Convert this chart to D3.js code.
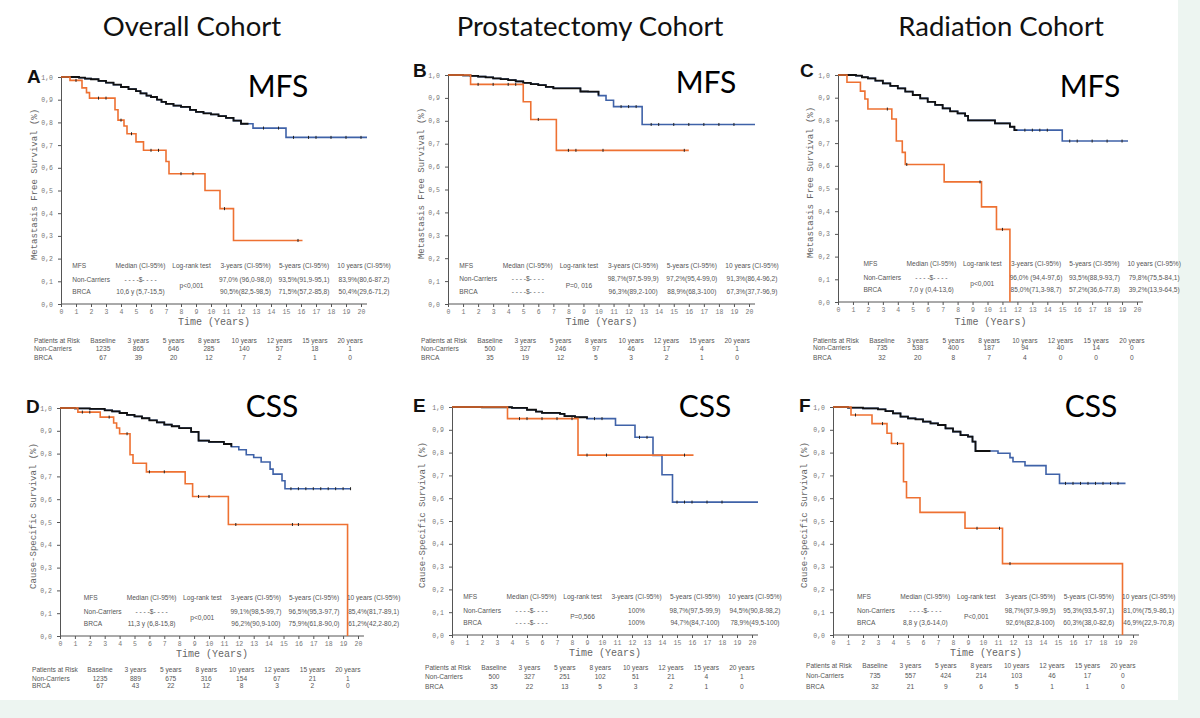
<!DOCTYPE html>
<html>
<head>
<meta charset="utf-8">
<script src="https://cdn.jsdelivr.net/npm/d3@7"></script>
<style>
  body { margin: 0; background: #edf5f1; }
  svg { display: block; }
</style>
</head>
<body>
<svg id="chart"></svg>
<script>
// column titles
const cohorts = ["Overall Cohort", "Prostatectomy Cohort", "Radiation Cohort"];
const endpoints = ["MFS", "MFS", "MFS", "CSS", "CSS", "CSS"];
const panelLetters = ["A", "B", "C", "D", "E", "F"];
const yTitles = ["Metastasis Free Survival (%)", "Metastasis Free Survival (%)", "Metastasis Free Survival (%)",
  "Cause-Specific Survival (%)", "Cause-Specific Survival (%)", "Cause-Specific Survival (%)"];

// step curves: [time in years, survival after the drop]
const ncA = [[0,1],[1.2,0.997],[1.6,0.993],[2,0.99],[2.5,0.983],[3,0.975],[3.5,0.966],[4,0.956],[4.5,0.947],[5,0.938],[5.3,0.928],[5.7,0.918],[6,0.912],[6.4,0.9],[6.7,0.89],[7,0.882],[7.5,0.874],[8,0.868],[8.6,0.855],[9,0.846],[9.5,0.84],[10,0.835],[10.5,0.828],[11,0.82],[11.5,0.808],[12,0.794],[12.8,0.775],[15,0.734],[20.4,0.734]];
const brA = [[0,1],[0.6,0.985],[1.4,0.952],[1.7,0.931],[1.9,0.907],[3.6,0.856],[3.8,0.81],[4.2,0.784],[4.4,0.75],[5,0.714],[5.5,0.677],[7,0.628],[7.2,0.574],[9.6,0.5],[10.6,0.42],[11.5,0.28],[16.1,0.28]];
const ncB = [[0,1],[1,0.998],[1.5,0.996],[2,0.993],[2.5,0.99],[3,0.985],[3.5,0.982],[4,0.978],[4.5,0.972],[5,0.966],[5.5,0.96],[6,0.956],[6.5,0.948],[7,0.942],[8.8,0.928],[9.3,0.927],[10,0.91],[10.5,0.89],[11,0.862],[12.9,0.784],[20.4,0.784]];
const brB = [[0,1],[1.5,0.959],[5,0.883],[5.5,0.806],[7.2,0.671],[16,0.671]];
const ncC = [[0,1],[1.2,0.997],[1.6,0.99],[2,0.985],[2.5,0.975],[3,0.963],[3.5,0.952],[4,0.941],[4.5,0.927],[5,0.912],[5.5,0.897],[6,0.882],[6.5,0.868],[7,0.853],[7.5,0.84],[8,0.831],[8.5,0.82],[8.7,0.8],[10.5,0.787],[11.5,0.772],[11.8,0.757],[15,0.709],[19.4,0.709]];
const brC = [[0,1],[0.6,0.968],[1.5,0.929],[1.8,0.894],[2,0.85],[3.6,0.806],[3.9,0.709],[4.3,0.659],[4.5,0.606],[7.1,0.529],[9.6,0.419],[10.6,0.32],[11.5,0]];
const ncD = [[0,1],[1,0.998],[2,0.996],[3,0.99],[3.5,0.985],[4,0.978],[4.5,0.97],[5,0.963],[5.5,0.955],[6,0.946],[6.5,0.937],[7,0.927],[7.5,0.92],[8,0.912],[8.8,0.895],[9.3,0.857],[10,0.851],[11,0.842],[11.5,0.83],[12,0.817],[12.5,0.795],[13,0.783],[13.5,0.763],[14.1,0.732],[14.3,0.71],[14.9,0.681],[15.1,0.646],[19.5,0.646]];
const brD = [[0,1],[1.2,0.982],[2.7,0.96],[3.6,0.934],[3.8,0.912],[4,0.887],[4.7,0.795],[4.9,0.758],[5.8,0.72],[8.4,0.668],[8.9,0.612],[11.3,0.489],[19.3,0]];
const ncE = [[0,1],[2,0.999],[4,0.996],[5,0.988],[5.6,0.98],[6,0.974],[7.2,0.97],[7.5,0.96],[8.2,0.955],[9,0.949],[10.9,0.92],[12.2,0.867],[13.4,0.788],[14,0.703],[14.7,0.583],[20.4,0.583]];
const brE = [[0,1],[3.7,0.949],[8.4,0.789],[16.1,0.789]];
const ncF = [[0,1],[1,0.997],[2,0.994],[3,0.99],[3.5,0.982],[4,0.972],[4.5,0.958],[5,0.95],[5.5,0.946],[6,0.936],[6.5,0.928],[7,0.921],[7.5,0.906],[8,0.892],[8.5,0.877],[9,0.87],[9.3,0.848],[9.5,0.807],[11,0.797],[11.8,0.778],[12,0.76],[12.8,0.743],[14.2,0.705],[15.1,0.665],[19.5,0.665]];
const brF = [[0,1],[1.2,0.965],[2.6,0.927],[3.6,0.885],[3.9,0.84],[4.7,0.672],[4.9,0.602],[5.8,0.538],[8.8,0.468],[11.3,0.313],[19.3,0]];

// censoring marks (years)
const ncCensor = [
  [13.5,14.5,15.5,16.5,17,18,19,20],
  [11.5,12,12.5,13.5,14,15,16,17,18,19],
  [12.5,13,13.5,14,15.5,16,17,18,19],
  [15.5,16,16.5,17,17.5,18,18.5,19,19.5],
  [9.5,10,12.5,13,15,15.5,16,17,18],
  [15.5,16,16.5,17,17.5,18,18.5,19]
];
const brCensor = [
  [1,2.5,3,4,4.7,6,6.5,8,8.8,10.9,15.8],
  [2,3,4,4.5,6,8,8.5,10.3,15.7],
  [3.3,4.6,9.5,11],
  [1.5,2,3.3,4.5,6,7,9.3,10,11.8,15.6,16],
  [4.5,5,6,7,8,9,10.3,15.5],
  [1.5,3.3,4.3,9.6,11.1,11.8]
];
// black (densely censored) part of non-carrier curve ends here
const darkUntil = [12.5, 10, 12, 11.5, 9, 10.5];

// inline summary tables
const sumHeader = ["Median (CI-95%)", "Log-rank test", "3-years (CI-95%)", "5-years (CI-95%)", "10 years (CI-95%)"];
const sumNc = [
  ["- - - -$- - - -", "97,0% (96,0-98,0)", "93,5%(91,9-95,1)", "83,9%(80,6-87,2)"],
  ["- - - -$- - - -", "98,7%(97,5-99,9)", "97,2%(95,4-99,0)", "91,3%(86,4-96,2)"],
  ["- - - -$- - - -", "96,0% (94,4-97,6)", "93,5%(88,9-93,7)", "79,8%(75,5-84,1)"],
  ["- - - -$- - - -", "99,1%(98,5-99,7)", "96,5%(95,3-97,7)", "85,4%(81,7-89,1)"],
  ["- - - -$- - - -", "100%", "98,7%(97,5-99,9)", "94,5%(90,8-98,2)"],
  ["- - - -$- - - -", "98,7%(97,9-99,5)", "95,3%(93,5-97,1)", "81,0%(75,9-86,1)"]
];
const sumBr = [
  ["10,6 y (5,7-15,5)", "90,5%(82,5-98,5)", "71,5%(57,2-85,8)", "50,4%(29,6-71,2)"],
  ["- - - -$- - - -", "96,3%(89,2-100)", "88,9%(68,3-100)", "67,3%(37,7-96,9)"],
  ["7,0 y (0,4-13,6)", "85,0%(71,3-98,7)", "57,2%(36,6-77,8)", "39,2%(13,9-64,5)"],
  ["11,3 y (6,8-15,8)", "96,2%(90,9-100)", "75,9%(61,8-90,0)", "61,2%(42,2-80,2)"],
  ["- - - -$- - - -", "100%", "94,7%(84,7-100)", "78,9%(49,5-100)"],
  ["8,8 y (3,6-14,0)", "92,6%(82,8-100)", "60,3%(38,0-82,6)", "46,9%(22,9-70,8)"]
];
const pValues = ["p<0,001", "P=0, 016", "p<0,001", "p<0,001", "P=0,566", "P<0,001"];

// patients at risk
const riskCols = ["Baseline", "3 years", "5 years", "8 years", "10 years", "12 years", "15 years", "20 years"];
const riskNc = [
  [1235, 865, 646, 285, 140, 57, 18, 1],
  [500, 327, 246, 97, 46, 17, 4, 1],
  [735, 538, 400, 187, 94, 40, 14, 0],
  [1235, 889, 675, 316, 154, 67, 21, 1],
  [500, 327, 251, 102, 51, 21, 4, 1],
  [735, 557, 424, 214, 103, 46, 17, 0]
];
const riskBr = [
  [67, 39, 20, 12, 7, 2, 1, 0],
  [35, 19, 12, 5, 3, 2, 1, 0],
  [32, 20, 8, 7, 4, 0, 0, 0],
  [67, 43, 22, 12, 8, 3, 2, 0],
  [35, 22, 13, 5, 3, 2, 1, 0],
  [32, 21, 9, 6, 5, 1, 1, 0]
];

const ncSeries = [ncA, ncB, ncC, ncD, ncE, ncF];
const brSeries = [brA, brB, brC, brD, brE, brF];

// layout for each panel (pixels)
const layout = [
  { x0: 61, x20: 361, yTop: 77, yBot: 304, letter: [27, 83], tag: [278, 97], yLab: 35, tShift: 0, risk: { left: 34, first: 103, step: 35.3, ys: [341, 349, 358] }, timeY: 322 },
  { x0: 448, x20: 749, yTop: 75, yBot: 304, letter: [413, 77], tag: [706, 93], yLab: 422, tShift: 0, risk: { left: 421, first: 490, step: 35.3, ys: [341, 349, 358] }, timeY: 322 },
  { x0: 838, x20: 1137, yTop: 75, yBot: 302, letter: [800, 77], tag: [1090, 97], yLab: 811, tShift: 0.95, risk: { left: 813, first: 882, step: 35.7, ys: [341, 348, 358] }, timeY: 322 },
  { x0: 60, x20: 358, yTop: 408, yBot: 636, letter: [26, 413], tag: [272, 417], yLab: 34, tShift: 0.85, risk: { left: 32, first: 100, step: 35.4, ys: [670, 679, 686] }, timeY: 654 },
  { x0: 452, x20: 752, yTop: 407, yBot: 635, letter: [413, 412], tag: [705, 417], yLab: 423, tShift: 0, risk: { left: 425, first: 494, step: 35.4, ys: [668, 677, 687] }, timeY: 653 },
  { x0: 833, x20: 1133, yTop: 407, yBot: 635, letter: [799, 412], tag: [1091, 417], yLab: 805, tShift: 0.85, risk: { left: 806, first: 875, step: 35.4, ys: [666, 676, 687] }, timeY: 653 }
];

const W = 1200, H = 718;
const BLUE = "#3f62a8", ORANGE = "#ee7132", AXIS = "#555", TXT = "#555";
const mono = "'Liberation Mono', 'DejaVu Sans Mono', monospace";
const sans = "'Liberation Sans', Arial, sans-serif";

const svg = d3.select("#chart").attr("width", W).attr("height", H);
svg.append("rect").attr("width", W).attr("height", H).attr("fill", "#edf5f1");
svg.append("rect").attr("width", 1178).attr("height", 700).attr("fill", "#fff");

// column titles
const titleX = [192, 590, 1001];
svg.selectAll(".cohort").data(cohorts).enter().append("text")
  .attr("x", (d, i) => titleX[i]).attr("y", 36)
  .attr("text-anchor", "middle")
  .attr("font-family", "Lato, 'Open Sans', sans-serif")
  .attr("font-size", 27.5)
  .attr("fill", "#111")
  .text(d => d);

const valueAt = (series, t) => {
  let v = series[0][1];
  series.forEach(p => { if (p[0] <= t) v = p[1]; });
  return v;
};

const comma = d => d3.format(".1f")(d).replace(".", ",");

layout.forEach((L, i) => {
  const g = svg.append("g");
  const x = d3.scaleLinear().domain([0, 20]).range([L.x0, L.x20]);
  const y = d3.scaleLinear().domain([0, 1]).range([L.yBot, L.yTop]);

  // axes
  const xAxis = g.append("g").attr("transform", `translate(0,${L.yBot})`)
    .call(d3.axisBottom(x).tickValues(d3.range(0, 21)).tickSize(3).tickSizeOuter(0));
  xAxis.select(".domain").attr("d", `M${L.x0},0H${x(20.4)}`);
  const yAxis = g.append("g").attr("transform", `translate(${L.x0},0)`)
    .call(d3.axisLeft(y).tickValues(d3.range(0, 1.01, 0.1)).tickFormat(comma).tickSize(3).tickSizeOuter(0));
  [xAxis, yAxis].forEach(a => {
    a.select(".domain").attr("stroke", AXIS).attr("stroke-width", 1);
    a.selectAll(".tick line").attr("stroke", AXIS);
    a.selectAll(".tick text").attr("fill", "#777").attr("font-family", mono).attr("font-size", 6.5);
  });
  xAxis.selectAll(".tick text").attr("dy", "0.6em");
  yAxis.selectAll(".tick text").attr("dx", -2);

  // axis titles
  g.append("text")
    .attr("x", (L.x0 + x(20.4)) / 2).attr("y", L.timeY)
    .attr("text-anchor", "middle").attr("dominant-baseline", "middle")
    .attr("font-family", mono).attr("font-size", 10).attr("fill", "#666")
    .text("Time (Years)");
  g.append("text")
    .attr("transform", `translate(${L.yLab},${(L.yTop + L.yBot) / 2 - 6}) rotate(-90)`)
    .attr("text-anchor", "middle").attr("dominant-baseline", "middle")
    .attr("font-family", mono).attr("font-size", 9).attr("fill", "#666")
    .text(yTitles[i]);

  // letters and endpoint tags
  g.append("text").attr("x", L.letter[0]).attr("y", L.letter[1])
    .attr("font-family", sans).attr("font-weight", "bold").attr("font-size", 19).attr("fill", "#111")
    .text(panelLetters[i]);
  g.append("text").attr("x", L.tag[0]).attr("y", L.tag[1]).attr("text-anchor", "middle")
    .attr("font-family", "Lato, 'Open Sans', sans-serif").attr("font-size", 30).attr("fill", "#000")
    .text(endpoints[i]);

  // curves
  const line = d3.line().x(d => x(d[0])).y(d => y(d[1])).curve(d3.curveStepAfter);
  const nc = ncSeries[i], br = brSeries[i];
  g.append("path").datum(nc).attr("d", line).attr("fill", "none").attr("stroke", BLUE).attr("stroke-width", 1.6);
  const dark = nc.filter(p => p[0] <= darkUntil[i]).concat([[darkUntil[i], valueAt(nc, darkUntil[i])]]);
  g.append("path").datum(dark).attr("d", line).attr("fill", "none").attr("stroke", "#111").attr("stroke-width", 1.8);
  g.append("path").datum(br).attr("d", line).attr("fill", "none").attr("stroke", ORANGE).attr("stroke-width", 1.6);

  // censor ticks
  g.selectAll(".cn").data(ncCensor[i]).enter().append("line")
    .attr("x1", d => x(d)).attr("x2", d => x(d))
    .attr("y1", d => y(valueAt(nc, d)) - 1.5).attr("y2", d => y(valueAt(nc, d)) + 1.5)
    .attr("stroke", "#222").attr("stroke-width", 1);
  g.selectAll(".cb").data(brCensor[i]).enter().append("line")
    .attr("x1", d => x(d)).attr("x2", d => x(d))
    .attr("y1", d => y(valueAt(br, d)) - 1.5).attr("y2", d => y(valueAt(br, d)) + 1.5)
    .attr("stroke", "#222").attr("stroke-width", 1);

  // inline summary table
  const sh = L.tShift;
  const colX = [5.3, 8.7, 12.3, 16.2, 20.2].map(v => x(v + sh));
  const rowY = [0.167, 0.106, 0.053].map(v => y(v));
  const tt = (tx, ty, s, anchor) => g.append("text").attr("x", tx).attr("y", ty)
    .attr("text-anchor", anchor || "middle").attr("dominant-baseline", "middle")
    .attr("font-family", sans).attr("font-size", 6.6).attr("fill", TXT).text(s);
  tt(x(0.75 + sh), rowY[0], "MFS", "start");
  tt(x(0.75 + sh), rowY[1], "Non-Carriers", "start");
  tt(x(0.75 + sh), rowY[2], "BRCA", "start");
  sumHeader.forEach((h, k) => tt(colX[k], rowY[0], h));
  [0, 2, 3, 4].forEach((c, k) => {
    tt(colX[c], rowY[1], sumNc[i][k]);
    tt(colX[c], rowY[2], sumBr[i][k]);
  });
  tt(colX[1], (rowY[1] + rowY[2]) / 2, pValues[i]);

  // patients at risk
  const R = L.risk;
  const rx = k => R.first + R.step * k;
  tt(R.left, R.ys[0], "Patients at Risk", "start");
  tt(R.left, R.ys[1], "Non-Carriers", "start");
  tt(R.left, R.ys[2], "BRCA", "start");
  riskCols.forEach((c, k) => tt(rx(k), R.ys[0], c));
  riskNc[i].forEach((v, k) => tt(rx(k), R.ys[1], v));
  riskBr[i].forEach((v, k) => tt(rx(k), R.ys[2], v));
});
</script>
</body>
</html>
